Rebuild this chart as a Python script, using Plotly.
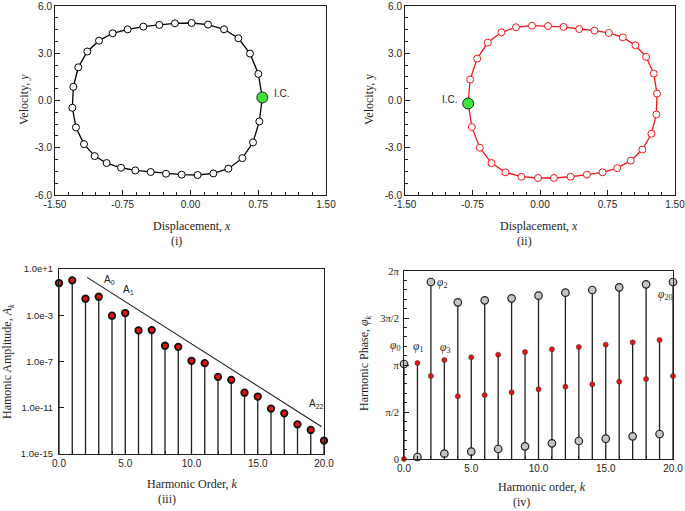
import math
import plotly.graph_objects as go

# ---------------- data ----------------
# (i) phase portrait, black
x1 = [0.795, 0.751, 0.659, 0.530, 0.371, 0.194, 0.013, -0.172, -0.345, -0.522, -0.696, -0.862,
      -1.013, -1.142, -1.242, -1.297, -1.308, -1.268, -1.179, -1.061, -0.928, -0.769, -0.611,
      -0.441, -0.271, -0.098, 0.079, 0.253, 0.419, 0.574, 0.692, 0.762, 0.795]
y1 = [0.19, 1.69, 2.98, 3.95, 4.52, 4.82, 4.92, 4.90, 4.80, 4.69, 4.52, 4.27,
      3.80, 3.11, 2.11, 0.87, -0.46, -1.71, -2.77, -3.53, -3.97, -4.27, -4.44,
      -4.54, -4.65, -4.71, -4.73, -4.63, -4.33, -3.66, -2.66, -1.33, 0.19]
ic1 = (0.795, 0.19)

# (ii) phase portrait, red
x2 = [-0.798, -0.776, -0.698, -0.580, -0.429, -0.266, -0.089, 0.089, 0.262, 0.436, 0.606, 0.765,
      0.920, 1.060, 1.179, 1.264, 1.300, 1.293, 1.238, 1.138, 1.009, 0.857, 0.695, 0.521,
      0.340, 0.155, -0.022, -0.207, -0.384, -0.539, -0.669, -0.757, -0.798]
y2 = [-0.19, 1.33, 2.66, 3.68, 4.33, 4.65, 4.75, 4.73, 4.67, 4.54, 4.44, 4.29,
      4.01, 3.51, 2.77, 1.71, 0.44, -0.89, -2.11, -3.11, -3.82, -4.29, -4.56, -4.71,
      -4.84, -4.92, -4.92, -4.84, -4.56, -3.97, -3.00, -1.69, -0.19]
ic2 = (-0.798, -0.19)

# (iii) harmonic amplitudes
k = list(range(21))
amp = [0.61, 1.04, 0.027, 0.040, 9.1e-4, 1.55e-3, 4.9e-5, 5.2e-5, 2.3e-6, 1.86e-6, 1.15e-7,
       7.2e-8, 4.7e-9, 2.6e-9, 2.0e-10, 9.3e-11, 8.5e-12, 3.3e-12, 3.7e-13, 1.2e-13, 1.45e-14]
trend_k = [2.12, 19.82]
trend_A = [1.9, 2.3e-13]
amp_ticks = [1e1, 1e-3, 1e-7, 1e-11, 1e-15]
amp_ticktext = ["1.0e+1", "1.0e-3", "1.0e-7", "1.0e-11", "1.0e-15"]

# (iv) harmonic phases (two solutions per harmonic)
phase_gray = [3.175, 0.067, 5.916, 0.178, 5.236, 0.245, 5.303, 0.334, 5.370, 0.423, 5.459,
              0.524, 5.560, 0.602, 5.648, 0.680, 5.737, 0.758, 5.838, 0.836, 5.916]
phase_red = [0.0, 3.209, 2.774, 3.309, 2.094, 3.398, 2.139, 3.487, 2.228, 3.576, 2.328,
             3.665, 2.418, 3.743, 2.496, 3.821, 2.585, 3.899, 2.674, 3.977, 2.774]
phase_ticks = [0, math.pi / 2, math.pi, 3 * math.pi / 2, 2 * math.pi]
phase_ticktext = ["0", "π/2", "π", "3π/2", "2π"]

# ---------------- style ----------------
SANS = "Liberation Sans"
SERIF = "Liberation Serif"
INK = "#1e1e1e"
W, H = 685, 511


def px(x):
    return x / W


def py(y):
    return 1 - y / H


fig = go.Figure()

# (i)
fig.add_trace(go.Scatter(x=x1, y=y1, mode="lines+markers", xaxis="x", yaxis="y",
                         line=dict(color="black", width=1.3),
                         marker=dict(size=7, color="white", line=dict(color="black", width=1)),
                         cliponaxis=False, showlegend=False))
fig.add_trace(go.Scatter(x=[ic1[0]], y=[ic1[1]], mode="markers", xaxis="x", yaxis="y",
                         marker=dict(size=11, color="#3fe23f", line=dict(color="#222", width=1)),
                         showlegend=False))
# (ii)
fig.add_trace(go.Scatter(x=x2, y=y2, mode="lines+markers", xaxis="x2", yaxis="y2",
                         line=dict(color="#f01818", width=1.3),
                         marker=dict(size=7, color="white", line=dict(color="#f01818", width=1)),
                         cliponaxis=False, showlegend=False))
fig.add_trace(go.Scatter(x=[ic2[0]], y=[ic2[1]], mode="markers", xaxis="x2", yaxis="y2",
                         marker=dict(size=11, color="#3fe23f", line=dict(color="#222", width=1)),
                         showlegend=False))

# (iii) stems
sx, sy = [], []
for kk, a in zip(k, amp):
    sx += [kk, kk, None]
    sy += [1e-15, a, None]
fig.add_trace(go.Scatter(x=sx, y=sy, mode="lines", xaxis="x3", yaxis="y3",
                         line=dict(color=INK, width=1.3), showlegend=False,
                         cliponaxis=False))
fig.add_trace(go.Scatter(x=k, y=amp, mode="markers", xaxis="x3", yaxis="y3",
                         marker=dict(size=6.5, color="#ee1111", line=dict(color="#111", width=1.8)),
                         cliponaxis=False, showlegend=False))
fig.add_trace(go.Scatter(x=trend_k, y=trend_A, mode="lines", xaxis="x3", yaxis="y3",
                         line=dict(color=INK, width=1.1), showlegend=False))

# (iv) stems
tx, ty = [], []
for kk, g, r in zip(k, phase_gray, phase_red):
    tx += [kk, kk, None]
    ty += [0, max(g, r), None]
fig.add_trace(go.Scatter(x=tx, y=ty, mode="lines", xaxis="x4", yaxis="y4",
                         line=dict(color=INK, width=1.3), showlegend=False,
                         cliponaxis=False))
fig.add_trace(go.Scatter(x=k, y=phase_gray, mode="markers", xaxis="x4", yaxis="y4",
                         marker=dict(size=7.5, color="#c4c4c4", line=dict(color="#222", width=1.2)),
                         cliponaxis=False, showlegend=False))
fig.add_trace(go.Scatter(x=k, y=phase_red, mode="markers", xaxis="x4", yaxis="y4",
                         marker=dict(size=5, color="#ee1111", line=dict(color="#333", width=0.6)),
                         cliponaxis=False, showlegend=False))

axis_common = dict(showline=True, linecolor=INK, linewidth=1, mirror=True, automargin=False,
                   ticks="inside", ticklen=5, tickcolor=INK, showgrid=False, zeroline=False,
                   ticklabeloverflow="allow",
                   tickfont=dict(family=SANS, size=10, color=INK))
minor_x = dict(ticks="inside", ticklen=3, tickcolor=INK)

fig.update_layout(
    width=W, height=H, margin=dict(l=0, r=0, t=0, b=0, autoexpand=False),
    paper_bgcolor="white", plot_bgcolor="white",
    xaxis=dict(axis_common, domain=[px(55), px(326)], anchor="y", range=[-1.5, 1.5],
               tickvals=[-1.5, -0.75, 0, 0.75, 1.5], ticktext=["-1.50", "-0.75", "0.00", "0.75", "1.50"],
               minor=dict(minor_x, dtick=0.15)),
    yaxis=dict(axis_common, domain=[py(195), py(6)], anchor="x", range=[-6, 6],
               tickvals=[-6, -3, 0, 3, 6], ticktext=["-6.0", "-3.0", "0.0", "3.0", "6.0"],
               minor=dict(minor_x, dtick=0.75)),
    xaxis2=dict(axis_common, domain=[px(405), px(675)], anchor="y2", range=[-1.5, 1.5],
                tickvals=[-1.5, -0.75, 0, 0.75, 1.5], ticktext=["-1.50", "-0.75", "0.00", "0.75", "1.50"],
                minor=dict(minor_x, dtick=0.15)),
    yaxis2=dict(axis_common, domain=[py(195), py(6)], anchor="x2", range=[-6, 6],
                tickvals=[-6, -3, 0, 3, 6], ticktext=["-6.0", "-3.0", "0.0", "3.0", "6.0"],
                minor=dict(minor_x, dtick=0.75)),
    xaxis3=dict(axis_common, domain=[px(59), px(324)], anchor="y3", range=[0, 20],
                tickvals=[0, 5, 10, 15, 20], ticktext=["0.0", "5.0", "10.0", "15.0", "20.0"],
                minor=dict(minor_x, dtick=1)),
    yaxis3=dict(axis_common, domain=[py(454), py(269)], anchor="x3", type="log", range=[-15, 1],
                tickvals=amp_ticks, ticktext=amp_ticktext, ticklabelstandoff=3,
                tickfont=dict(family=SANS, size=9.5, color=INK)),
    xaxis4=dict(axis_common, domain=[px(404), px(673)], anchor="y4", range=[0, 20],
                tickvals=[0, 5, 10, 15, 20], ticktext=["0.0", "5.0", "10.0", "15.0", "20.0"],
                minor=dict(minor_x, dtick=1)),
    yaxis4=dict(axis_common, domain=[py(459), py(271)], anchor="x4", range=[0, 2 * math.pi],
                tickvals=phase_ticks, ticktext=phase_ticktext, ticklabelstandoff=2,
                tickfont=dict(family=SERIF, size=10.5, color=INK),
                minor=dict(minor_x, dtick=math.pi / 10)),
)

ann = []


def paper_text(text, x, y, size=12, angle=0, family=SERIF, anchor="center"):
    ann.append(dict(text=text, x=px(x), y=py(y), xref="paper", yref="paper", showarrow=False,
                    textangle=angle, xanchor=anchor, yanchor="middle",
                    font=dict(family=family, size=size, color=INK)))


paper_text("Displacement, <i>x</i>", 192, 226)
paper_text("(i)", 176, 241)
paper_text("Velocity, <i>y</i>", 24, 100, angle=-90)
paper_text("Displacement, <i>x</i>", 539, 226)
paper_text("(ii)", 524, 241)
paper_text("Velocity, y", 369, 100, angle=-90)
paper_text("Harmonic Order, <i>k</i>", 192, 484)
paper_text("(iii)", 167, 499)
paper_text("Hamonic Amplitude, <i>A<sub>k</sub></i>", 8, 362, angle=-90)
paper_text("Harmonic order, <i>k</i>", 542, 487)
paper_text("(iv)", 521, 502)
paper_text("Harmonic Phase, <i>φ<sub>k</sub></i>", 365, 363, angle=-90)
paper_text("<i>φ</i><sub>0</sub>", 395, 346, size=11.5)


def data_text(text, x, y, xr, yr, anchor="left", size=10, family=SANS):
    ann.append(dict(text=text, x=x, y=y, xref=xr, yref=yr, showarrow=False,
                    xanchor=anchor, yanchor="middle",
                    font=dict(family=family, size=size, color=INK)))


data_text("I.C.", 0.9, 0.45, "x", "y")
data_text("I.C.", -0.89, 0.05, "x2", "y2", anchor="right")
data_text("A<sub>0</sub>", 3.27, 0.05, "x3", "y3")
data_text("A<sub>1</sub>", 4.71, -0.8, "x3", "y3")
data_text("A<sub>22</sub>", 18.7, -10.7, "x3", "y3")
data_text("<i>φ</i><sub>1</sub>", 1.04, 3.75, "x4", "y4", anchor="center", size=11.5, family=SERIF)
data_text("<i>φ</i><sub>2</sub>", 2.83, 5.87, "x4", "y4", anchor="center", size=11.5, family=SERIF)
data_text("<i>φ</i><sub>3</sub>", 3.07, 3.72, "x4", "y4", anchor="center", size=11.5, family=SERIF)
data_text("<i>φ</i><sub>20</sub>", 19.38, 5.48, "x4", "y4", anchor="center", size=11.5, family=SERIF)

fig.update_layout(annotations=ann)
fig.write_html("out.html", config={"displayModeBar": False},
               post_script="document.body.style.margin='0px';")
